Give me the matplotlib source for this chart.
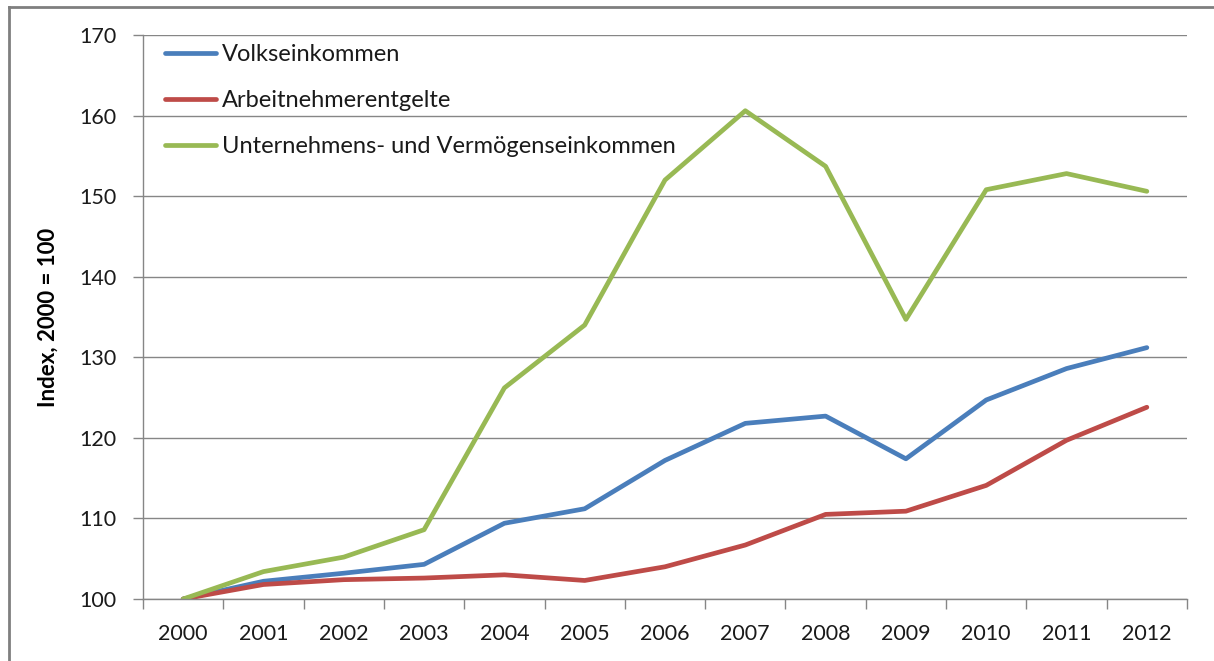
import matplotlib.pyplot as plt
from matplotlib.lines import Line2D

plt.rcParams['font.family'] = ['Lato', 'DejaVu Sans']

years = ['2000', '2001', '2002', '2003', '2004', '2005', '2006',
         '2007', '2008', '2009', '2010', '2011', '2012']
volkseinkommen = [100, 102.2, 103.2, 104.3, 109.4, 111.2, 117.2,
                  121.8, 122.7, 117.4, 124.7, 128.6, 131.2]
arbeitnehmer = [100, 101.8, 102.4, 102.6, 103.0, 102.3, 104.0,
                106.7, 110.5, 110.9, 114.1, 119.7, 123.8]
unternehmen = [100, 103.4, 105.2, 108.6, 126.2, 134.0, 152.0,
               160.6, 153.7, 134.7, 150.8, 152.8, 150.6]
labels = ['Volkseinkommen', 'Arbeitnehmerentgelte',
          'Unternehmens- und Vermögenseinkommen']
colors = ['#4a7ebb', '#be4b48', '#98b954']

fig = plt.figure(figsize=(12.14, 6.61), dpi=100)
ax = fig.add_axes([143 / 1214, 62 / 661, 1044 / 1214, 564 / 661])

x = list(range(len(years)))
for vals, lab, col in zip([volkseinkommen, arbeitnehmer, unternehmen], labels, colors):
    ax.plot(x, vals, color=col, lw=3.4, label=lab, solid_joinstyle='round',
            solid_capstyle='round')

ax.set_xlim(-0.5, len(years) - 0.5)
ax.set_ylim(100, 170)
ax.set_yticks(range(100, 171, 10))
ax.yaxis.grid(True, color='#868686', lw=1)
ax.set_axisbelow(True)

# category boundaries as major ticks, labels on minor ticks
ax.set_xticks([i - 0.5 for i in range(len(years) + 1)])
ax.set_xticklabels([])
ax.set_xticks(x, minor=True)
ax.set_xticklabels(years, minor=True)
ax.tick_params(axis='x', which='major', length=7, color='#868686', width=1)
ax.tick_params(axis='x', which='minor', length=0, pad=18, labelsize=15.5, labelcolor='#1a1a1a')
ax.tick_params(axis='y', length=7, color='#868686', width=1, pad=12,
               labelsize=15.5, labelcolor='#1a1a1a')

for s in ['top', 'right']:
    ax.spines[s].set_visible(False)
for s in ['left', 'bottom']:
    ax.spines[s].set_color('#868686')
    ax.spines[s].set_linewidth(1)

ax.set_ylabel('Index, 2000 = 100', fontsize=16, fontweight='bold')
ax.yaxis.set_label_coords(-0.081, 0.5)

leg = ax.legend(loc='upper left', bbox_to_anchor=(0.012, 1.0), frameon=False,
                fontsize=17, handlelength=2.15, handletextpad=0.25,
                labelspacing=1.05, borderaxespad=0)
for t in leg.get_texts():
    t.set_color('#1a1a1a')

# outer frame (left and top edges visible)
fig.add_artist(Line2D([9 / 1214, 9 / 1214], [0, 1 - 7 / 661], color='#7f7f7f', lw=2,
                      transform=fig.transFigure))
fig.add_artist(Line2D([9 / 1214, 1], [1 - 7 / 661, 1 - 7 / 661], color='#7f7f7f', lw=2,
                      transform=fig.transFigure))

fig.savefig('out.png', dpi=100)
